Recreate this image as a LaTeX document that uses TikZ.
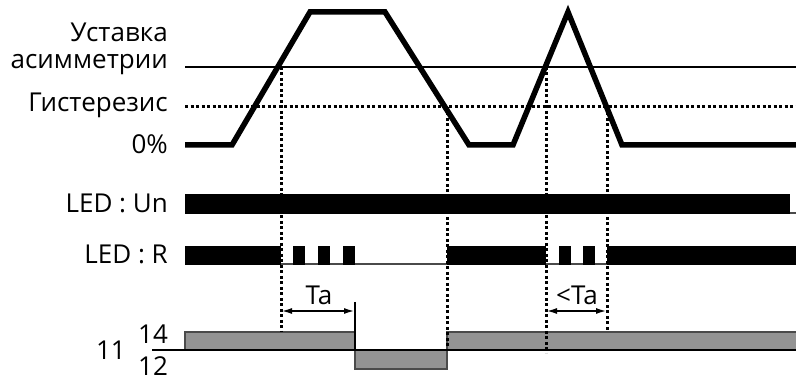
\documentclass[tikz,border=0pt]{standalone}
\usepackage{fontspec}
\setmainfont{Open Sans}
\usetikzlibrary{arrows.meta}
\definecolor{relay}{HTML}{939393}
\definecolor{edge}{HTML}{4A4A4A}
\tikzset{
  lbl/.style={font=\fontsize{26}{30}\selectfont, inner sep=0pt},
  signal/.style={line width=5.5pt, line join=miter},
  level/.style={line width=2pt},
  hyst/.style={line width=3pt, dash pattern=on 3pt off 2.5pt},
  guide/.style={line width=3pt, dash pattern=on 3pt off 2.5pt},
  ledbar/.style={fill=black, draw=none},
  ledbase/.style={draw=edge, line width=1.2pt},
  contact/.style={fill=relay, draw=edge, line width=1.2pt},
  span/.style={line width=2pt, {Latex[length=11pt,width=6pt]}-{Latex[length=11pt,width=6pt]}},
}
\begin{document}
\begin{tikzpicture}[x=1pt, y=-1pt]
\useasboundingbox (0,0) rectangle (796,382);

% level labels
\node[lbl, anchor=east] (setp1) at (168,32) {Уставка};
\node[lbl, anchor=east] (setp2) at (168,65) {асимметрии};
\node[lbl, anchor=east] (hys)   at (168,105) {Гистерезис};
\node[lbl, anchor=east] (zero)  at (168,144) {0\%};
\node[lbl, anchor=east] (ledun) at (168,203) {LED : Un};
\node[lbl, anchor=east] (ledr)  at (168,254) {LED : R};
\node[lbl, anchor=east] (c11)   at (126,350) {11};
\node[lbl] (c14) at (153,334) {14};
\node[lbl] (c12) at (153,366) {12};

% threshold levels
\draw[level] (185,67) -- (796,67);
\draw[hyst]  (185,107) -- (796,107);

% measured signal
\draw[signal] (185,145) -- (232,145) -- (310,12) -- (385,12) -- (469,145)
  -- (513,145) -- (568,12) -- (622,145) -- (796,145);

% event coordinates
\coordinate (a1) at (281,67);
\coordinate (a2) at (447,107);
\coordinate (a3) at (546,67);
\coordinate (a4) at (607,107);
\coordinate (t1) at (355,302);

% LED : Un
\draw[ledbase] (185,213) -- (796,213);
\fill[ledbar] (185,194) rectangle (790,214);

% LED : R
\draw[ledbase] (185,264) -- (796,264);
\fill[ledbar] (185,246) rectangle (281,265);
\foreach \x in {293,318,343}
  \fill[ledbar] (\x,246) rectangle (\x+12,265);
\fill[ledbar] (447,246) rectangle (546,265);
\foreach \x in {559,583}
  \fill[ledbar] (\x,246) rectangle (\x+12,265);
\fill[ledbar] (607,246) rectangle (796,265);

% relay contact 11-14 / 11-12
\draw[contact] (185,332) rectangle (355,350);
\draw[contact] (355,350) rectangle (447,369);
\draw[contact] (447,332) rectangle (797,350);
\draw[line width=2pt] (152,350) -- (796,350);

% guide lines
\draw[guide] (a1) -- (281,332);
\draw[guide] (a2) -- (447,350);
\draw[guide] (a3) -- (546,353);
\draw[guide] (a4) -- (607,330);
\draw[line width=2pt] (t1) -- (355,350);

% delay spans
\draw[span] (281,311) -- (355,311);
\node[lbl] (ta) at (319,295) {Ta};
\draw[span] (546,311) -- (607,311);
\node[lbl] (lta) at (577,295) {<Ta};
\end{tikzpicture}
\end{document}
